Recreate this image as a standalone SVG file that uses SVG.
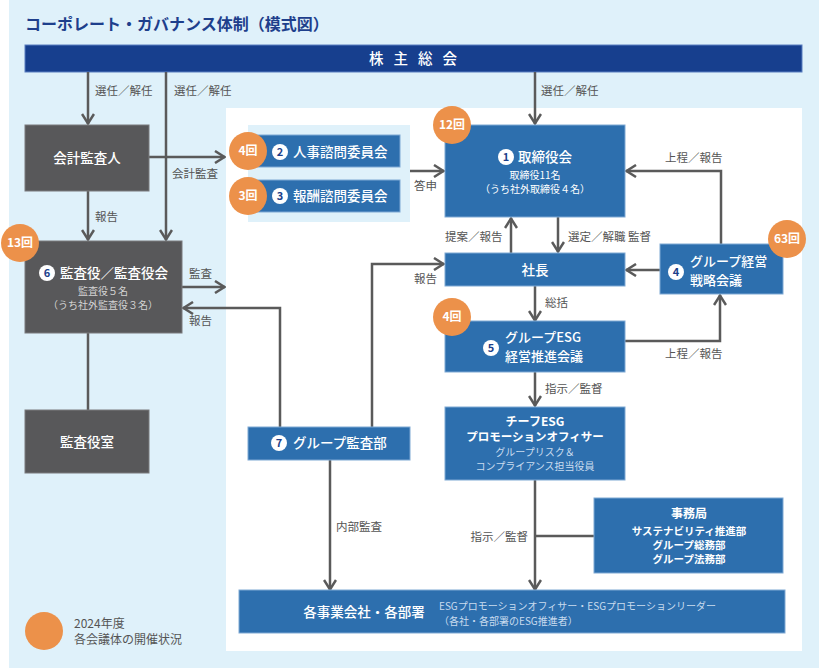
<svg xmlns="http://www.w3.org/2000/svg" width="819" height="668" viewBox="0 0 819 668">
<defs>
<style>
text{font-family:"Noto Sans CJK JP","Noto Sans",sans-serif}
.lbl{font-size:11.5px;fill:#555}
.blue{fill:#2d6fae;stroke:#7fa9d4;stroke-width:1}
.gray{fill:#58585a;stroke:#7a7a7c;stroke-width:1}
.t{fill:#fff;font-size:13.5px;font-weight:500}
.t2{fill:#fff;font-size:13px;font-weight:500}
.s{fill:#fff;font-size:10px}
.sl{fill:#c9dcef;font-size:10px}
.sg{fill:#d4d4d4;font-size:10px}
.badge{fill:#ec914a}
.bt{fill:#fff;font-size:12px;font-weight:bold;text-anchor:middle}
.num{fill:#fff}
.nt{fill:#1d3f8a;font-size:11px;font-weight:bold;text-anchor:middle}
.c{text-anchor:middle}
#connectors path{fill:none;stroke:#5a5a5a;stroke-width:2.5}
</style>
<marker id="arr" viewBox="0 0 12 14" refX="11" refY="7" markerWidth="12" markerHeight="14" markerUnits="userSpaceOnUse" orient="auto">
<path d="M1,1 L10.5,7 L1,13" fill="none" stroke="#5a5a5a" stroke-width="2.5"/>
</marker>
</defs>

<rect x="9" y="0" width="810" height="668" fill="#dff1fa"/>
<rect x="226" y="108" width="576" height="543" fill="#ffffff"/>
<text x="25" y="30" font-size="16" font-weight="bold" fill="#1e3f8c">コーポレート・ガバナンス体制（模式図）</text>

<g id="shareholders">
<rect x="25" y="45" width="777" height="27" fill="#173f8e" stroke="#5b7fc0" stroke-width="1"/>
<text x="418" y="64" class="c" fill="#fff" font-size="14.5" font-weight="500" letter-spacing="10">株主総会</text>
</g>

<g id="connectors">
<path d="M88,72 V124" marker-end="url(#arr)"/>
<path d="M166,72 V240" marker-end="url(#arr)"/>
<path d="M535,72 V124" marker-end="url(#arr)"/>
<path d="M149,157 H225" marker-end="url(#arr)"/>
<path d="M88,191 V240" marker-end="url(#arr)"/>
<path d="M182,287 H225" marker-end="url(#arr)"/>
<path d="M280,427 V308 H183" marker-end="url(#arr)"/>
<path d="M88,333 V410"/>
<path d="M410,171 H444" marker-end="url(#arr)"/>
<path d="M558,217 V252" marker-end="url(#arr)"/>
<path d="M511,253 V218" marker-end="url(#arr)"/>
<path d="M372,427 V264 H444" marker-end="url(#arr)"/>
<path d="M660,270 H626" marker-end="url(#arr)"/>
<path d="M721,244 V171 H626" marker-end="url(#arr)"/>
<path d="M625,341 H720 V295" marker-end="url(#arr)"/>
<path d="M535,286 V321" marker-end="url(#arr)"/>
<path d="M535,372 V406" marker-end="url(#arr)"/>
<path d="M535,480 V590" marker-end="url(#arr)"/>
<path d="M535,536 H594"/>
<path d="M330,460 V590" marker-end="url(#arr)"/>
</g>

<g id="labels">
<text x="95" y="95" class="lbl">選任／解任</text>
<text x="174" y="95" class="lbl">選任／解任</text>
<text x="541" y="95" class="lbl">選任／解任</text>
<text x="172" y="178" class="lbl">会計監査</text>
<text x="95" y="221" class="lbl">報告</text>
<text x="189" y="278" class="lbl">監査</text>
<text x="189" y="325" class="lbl">報告</text>
<text x="414" y="190" class="lbl">答申</text>
<text x="445" y="241" class="lbl">提案／報告</text>
<text x="568" y="241" class="lbl">選定／解職 監督</text>
<text x="414" y="283" class="lbl">報告</text>
<text x="665" y="162" class="lbl">上程／報告</text>
<text x="545" y="307" class="lbl">総括</text>
<text x="665" y="358" class="lbl">上程／報告</text>
<text x="545" y="393" class="lbl">指示／監督</text>
<text x="336" y="531" class="lbl">内部監査</text>
<text x="528" y="541" class="lbl" text-anchor="end">指示／監督</text>
</g>

<g id="auditor">
<rect x="25" y="125" width="124" height="66" class="gray"/>
<text x="87" y="163" class="t c">会計監査人</text>
</g>

<g id="audit-board">
<rect x="25" y="241" width="157" height="92" class="gray"/>
<circle cx="47" cy="273" r="8" class="num"/>
<text x="47" y="277" class="nt">6</text>
<text x="60" y="278" class="t">監査役／監査役会</text>
<text x="103" y="295" class="sg c">監査役５名</text>
<text x="103" y="309" class="sg c">（うち社外監査役３名）</text>
<circle cx="20" cy="243" r="19" class="badge"/>
<text x="20" y="247" class="bt">13回</text>
</g>

<g id="audit-office">
<rect x="25" y="410" width="124" height="63" class="gray"/>
<text x="87" y="447" class="t c">監査役室</text>
</g>

<g id="committees">
<rect x="248" y="125" width="162" height="97" fill="#dff1fa"/>
<rect x="256" y="135" width="144" height="32" class="blue"/>
<circle cx="280" cy="152" r="8" class="num"/>
<text x="280" y="156" class="nt">2</text>
<text x="293" y="157" class="t">人事諮問委員会</text>
<circle cx="248" cy="151" r="19" class="badge"/>
<text x="248" y="155" class="bt">4回</text>
<rect x="256" y="180" width="144" height="32" class="blue"/>
<circle cx="280" cy="196" r="8" class="num"/>
<text x="280" y="200" class="nt">3</text>
<text x="293" y="201" class="t">報酬諮問委員会</text>
<circle cx="248" cy="196" r="19" class="badge"/>
<text x="248" y="200" class="bt">3回</text>
</g>

<g id="board">
<rect x="445" y="125" width="180" height="92" class="blue"/>
<circle cx="506" cy="157" r="8" class="num"/>
<text x="506" y="161" class="nt">1</text>
<text x="518" y="162" class="t" font-size="14">取締役会</text>
<text x="535" y="179" class="s c">取締役11名</text>
<text x="535" y="193" class="s c">（うち社外取締役４名）</text>
<circle cx="452" cy="125" r="19" class="badge"/>
<text x="452" y="129" class="bt">12回</text>
</g>

<g id="president">
<rect x="445" y="253" width="180" height="33" class="blue"/>
<text x="535" y="275" class="t c" font-size="14">社長</text>
</g>

<g id="strategy">
<rect x="660" y="244" width="123" height="50" class="blue"/>
<circle cx="676" cy="272" r="8" class="num"/>
<text x="676" y="276" class="nt">4</text>
<text x="690" y="266" class="t2">グループ経営</text>
<text x="690" y="285" class="t2">戦略会議</text>
<circle cx="787" cy="239" r="19" class="badge"/>
<text x="787" y="243" class="bt">63回</text>
</g>

<g id="esg-council">
<rect x="445" y="321" width="180" height="51" class="blue"/>
<circle cx="491" cy="348" r="8" class="num"/>
<text x="491" y="352" class="nt">5</text>
<text x="505" y="342" class="t2">グループESG</text>
<text x="505" y="361" class="t2">経営推進会議</text>
<circle cx="452" cy="317" r="19" class="badge"/>
<text x="452" y="321" class="bt">4回</text>
</g>

<g id="cpo">
<rect x="445" y="407" width="180" height="73" class="blue"/>
<text x="535" y="426" class="c" fill="#fff" font-size="12" font-weight="bold">チーフESG</text>
<text x="535" y="441" class="c" fill="#fff" font-size="11.5" font-weight="bold">プロモーションオフィサー</text>
<text x="535" y="456" class="sl c" font-size="9.5">グループリスク＆</text>
<text x="535" y="470" class="sl c" font-size="9.5">コンプライアンス担当役員</text>
</g>

<g id="secretariat">
<rect x="594" y="498" width="189" height="75" class="blue"/>
<text x="689" y="518" class="c" fill="#fff" font-size="12" font-weight="bold">事務局</text>
<text x="689" y="535" class="c" fill="#fff" font-size="10.5" font-weight="bold">サステナビリティ推進部</text>
<text x="689" y="549" class="c" fill="#fff" font-size="10.5" font-weight="bold">グループ総務部</text>
<text x="689" y="563" class="c" fill="#fff" font-size="10.5" font-weight="bold">グループ法務部</text>
</g>

<g id="internal-audit">
<rect x="248" y="427" width="162" height="33" class="blue"/>
<circle cx="279" cy="443" r="8" class="num"/>
<text x="279" y="447" class="nt">7</text>
<text x="293" y="448" class="t">グループ監査部</text>
</g>

<g id="business-units">
<rect x="239" y="590" width="546" height="43" class="blue"/>
<text x="364" y="617" class="t c" font-size="14">各事業会社・各部署</text>
<text x="439" y="610" class="sl">ESGプロモーションオフィサー・ESGプロモーションリーダー</text>
<text x="439" y="625" class="sl">（各社・各部署のESG推進者）</text>
</g>

<g id="legend">
<circle cx="44" cy="631" r="19" class="badge"/>
<text x="74" y="628" font-size="12" fill="#555">2024年度</text>
<text x="74" y="644" font-size="12" fill="#555">各会議体の開催状況</text>
</g>
</svg>
